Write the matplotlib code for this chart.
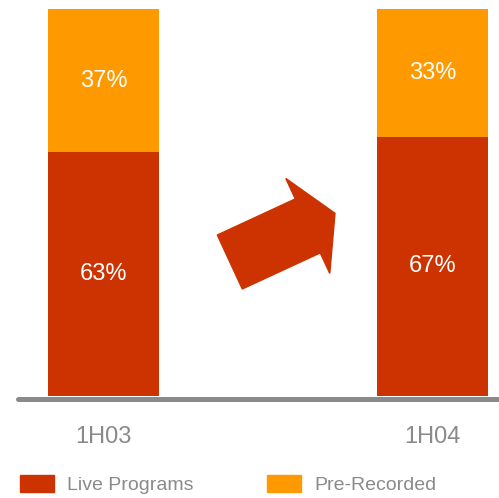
import matplotlib
matplotlib.use("Agg")
import matplotlib.pyplot as plt
import matplotlib.patches as mpatches
from matplotlib.transforms import IdentityTransform
from matplotlib import font_manager

periods = ["1H03", "1H04"]
live = [63, 67]
prerec = [37, 33]
series_names = ["Live Programs", "Pre-Recorded"]
RED = "#CC3300"
ORANGE = "#FF9900"
GRAY = "#8A8A8A"

plt.rcParams['font.family'] = ['Liberation Sans', 'DejaVu Sans']
names = {f.name for f in font_manager.fontManager.ttflist}
narrow = 'Liberation Sans Narrow' in names

W, H = 499, 498
fig = plt.figure(figsize=(W / 100, H / 100), dpi=100)
ax = fig.add_axes([18 / W, (H - 396) / H, (W - 18) / W, (396 - 9) / H])

x = [0, 1]
bw = 111 / 329
ax.bar(x, live, width=bw, color=RED, zorder=2)
ax.bar(x, prerec, width=bw, bottom=live, color=ORANGE, zorder=2)
for xi, l, p in zip(x, live, prerec):
    ax.text(xi, l / 2, f"{l}%", ha="center", va="center", color="white", fontsize=17)
    ax.text(xi, l + p / 2, f"{p}%", ha="center", va="center", color="white", fontsize=17)

ax.set_xlim(-(103.5 - 18) / 329, 1 + (499 - 432.5) / 329)
ax.set_ylim(0, 100)
for s in ["top", "right", "left"]:
    ax.spines[s].set_visible(False)
ax.spines["bottom"].set_color(GRAY)
ax.spines["bottom"].set_linewidth(3.6)
ax.spines["bottom"].set_position(("outward", 1.8))
ax.spines["bottom"].set_capstyle("round")
ax.set_yticks([])
ax.set_xticks(x)
ax.set_xticklabels(periods, color=GRAY, fontsize=17)
ax.tick_params(axis="x", length=0, pad=20)

tail = (229.8, H - 262)
tip = (335, H - 213.3)
arrow = mpatches.FancyArrow(tail[0], tail[1], tip[0] - tail[0], tip[1] - tail[1],
                            width=59.5, head_width=104.7, head_length=30,
                            length_includes_head=True, color=RED,
                            transform=IdentityTransform())
fig.patches.append(arrow)

if narrow:
    lfont = {'family': ['Liberation Sans Narrow', 'DejaVu Sans'], 'size': 17}
    colsp = 3.3
else:
    lfont = {'family': ['Liberation Sans', 'DejaVu Sans'], 'size': 14}
    colsp = 3.8
handles = [mpatches.Patch(color=RED), mpatches.Patch(color=ORANGE)]
fsz_px = lfont['size'] * 100 / 72
leg = fig.legend(handles, series_names, loc="lower left", ncol=2,
                 bbox_to_anchor=(20 / W, 4 / H), frameon=False, prop=lfont,
                 handlelength=34 / fsz_px, handleheight=19 / fsz_px,
                 handletextpad=13 / fsz_px, columnspacing=colsp,
                 borderaxespad=0, borderpad=0)
for t in leg.get_texts():
    t.set_color(GRAY)

fig.savefig("out.png", dpi=100)
